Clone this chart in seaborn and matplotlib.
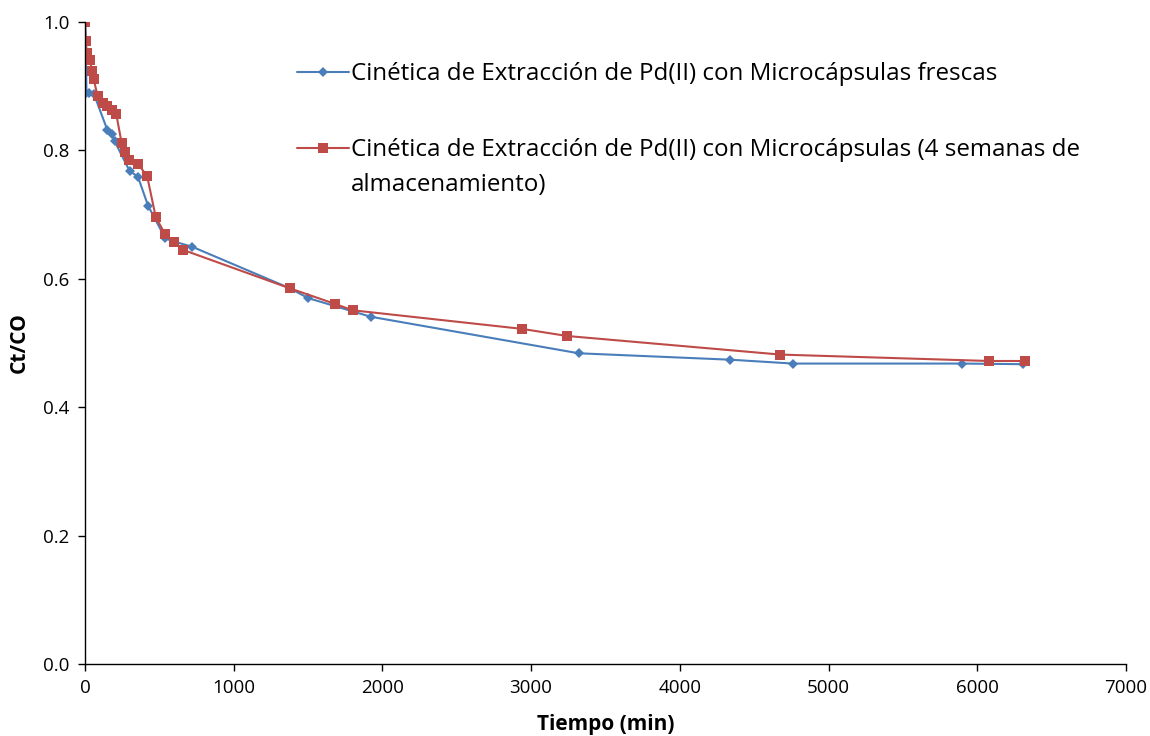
import matplotlib
matplotlib.use("Agg")
import matplotlib.pyplot as plt
import seaborn as sns
import pandas as pd

# Datos
tiempo_frescas = [0, 5, 10, 30, 60, 150, 180, 200, 300, 356, 424, 540, 600, 720,
                  1380, 1500, 1920, 3320, 4340, 4760, 5900, 6310]
ct_frescas = [1.0, 0.97, 0.89, 0.89, 0.888, 0.832, 0.826, 0.814, 0.768, 0.759, 0.714,
              0.663, 0.658, 0.650, 0.585, 0.570, 0.541, 0.484, 0.474, 0.468, 0.468, 0.467]

tiempo_almacen = [0, 5, 13, 33, 48, 58, 85, 118, 150, 183, 210, 246, 268, 296, 356,
                  418, 476, 538, 598, 660, 1380, 1680, 1800, 2940, 3240, 4675, 6080, 6320]
ct_almacen = [1.0, 0.97, 0.952, 0.941, 0.924, 0.911, 0.885, 0.874, 0.869, 0.863, 0.857,
              0.812, 0.798, 0.785, 0.779, 0.760, 0.696, 0.670, 0.657, 0.645, 0.585,
              0.561, 0.551, 0.522, 0.511, 0.482, 0.472, 0.472]

etiqueta_frescas = "Cinética de Extracción de Pd(II) con Microcápsulas frescas"
etiqueta_almacen = "Cinética de Extracción de Pd(II) con Microcápsulas (4 semanas de"
etiqueta_almacen_2 = "almacenamiento)"

df_f = pd.DataFrame({"t": tiempo_frescas, "c": ct_frescas})
df_a = pd.DataFrame({"t": tiempo_almacen, "c": ct_almacen})

sns.set_theme(style="white")
plt.rcParams["font.family"] = ["Open Sans", "DejaVu Sans"]
plt.rcParams["text.color"] = "black"
plt.rcParams["axes.labelcolor"] = "black"

fig = plt.figure(figsize=(11.5, 7.36), dpi=100)
ax = fig.add_axes([0.0739, 0.0978, 0.9052, 0.8723])

sns.lineplot(data=df_f, x="t", y="c", ax=ax, sort=False, estimator=None,
             color="#4A7EBB", linewidth=1.5, marker="D", markersize=5,
             markeredgewidth=0, label=etiqueta_frescas)
sns.lineplot(data=df_a, x="t", y="c", ax=ax, sort=False, estimator=None,
             color="#BE4B48", linewidth=1.5, marker="s", markersize=7.5,
             markeredgewidth=0, label=etiqueta_almacen)

ax.set_xlim(0, 7000)
ax.set_ylim(0, 1.0)
ax.set_xticks(range(0, 7001, 1000))
ax.set_yticks([0.0, 0.2, 0.4, 0.6, 0.8, 1.0])
ax.set_yticklabels([f"{v:.1f}" for v in [0.0, 0.2, 0.4, 0.6, 0.8, 1.0]])
ax.tick_params(axis="both", labelsize=13.5, direction="out", length=5, width=1,
               bottom=True, left=True, colors="black", pad=6)
for lado in ["top", "right"]:
    ax.spines[lado].set_visible(False)
for lado in ["left", "bottom"]:
    ax.spines[lado].set_color("black")
    ax.spines[lado].set_linewidth(1)

ax.set_xlabel("Tiempo (min)", fontsize=15, fontweight="bold", labelpad=12)
ax.set_ylabel("Ct/CO", fontsize=15, fontweight="bold", labelpad=10)

leg = ax.legend(loc="upper left", bbox_to_anchor=(0.194, 0.952), frameon=False,
                fontsize=17.4, handlelength=2.15, handletextpad=0.1,
                labelspacing=2.15, borderaxespad=0)

# segunda línea de la etiqueta, alineada con el texto de la leyenda
fig.canvas.draw()
bb = leg.get_texts()[1].get_window_extent().transformed(ax.transAxes.inverted())
ax.text(bb.x0, bb.y0 - 0.054, etiqueta_almacen_2, transform=ax.transAxes,
        fontsize=17.4, va="bottom", ha="left")

plt.savefig("out.png", dpi=100)
plt.close()
